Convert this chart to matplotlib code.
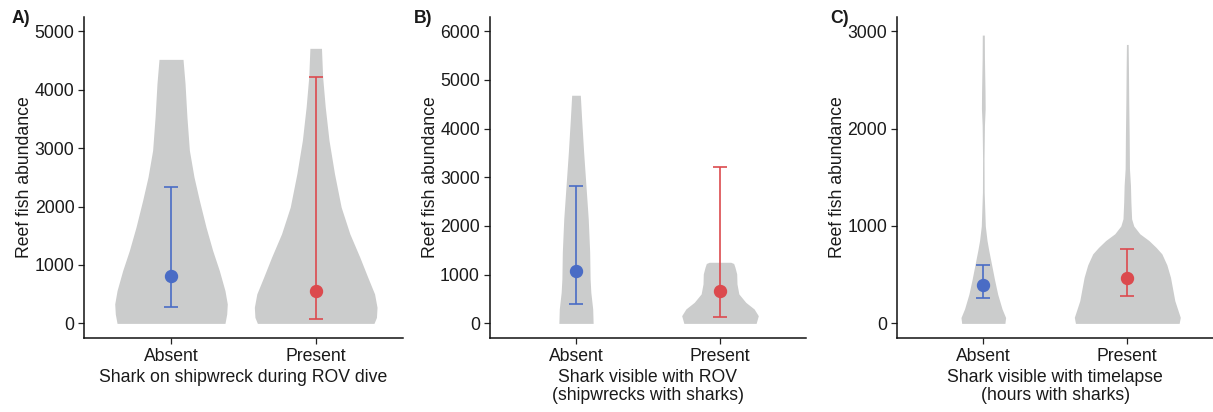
import matplotlib
matplotlib.use("Agg")
import matplotlib.pyplot as plt

plt.rcParams['font.family'] = ['Liberation Sans', 'DejaVu Sans']

groups = ['Absent', 'Present']
panel_letters = ['A)', 'B)', 'C)']
x_titles = ['Shark on shipwreck during ROV dive',
            'Shark visible with ROV\n(shipwrecks with sharks)',
            'Shark visible with timelapse\n(hours with sharks)']
y_tick_values = [[0, 1000, 2000, 3000, 4000, 5000],
                 [0, 1000, 2000, 3000, 4000, 5000, 6000],
                 [0, 1000, 2000, 3000]]

# violin outlines: abundance level -> half width (in category units)
a_absent_y = [0, 161, 333, 561, 904, 1247, 1647, 2105, 2504, 2962, 3534, 4106, 4518]
a_absent_w = [0.373, 0.385, 0.389, 0.373, 0.334, 0.288, 0.242, 0.196, 0.159, 0.127, 0.11, 0.097, 0.083]
a_present_y = [0, 103, 275, 504, 789, 1132, 1533, 1990, 2562, 3134, 3705, 4219, 4707]
a_present_w = [0.403, 0.42, 0.424, 0.407, 0.36, 0.305, 0.236, 0.176, 0.13, 0.092, 0.066, 0.048, 0.04]

b_absent_y = [0, 296, 638, 914, 1461, 2148, 2833, 3519, 4206, 4685]
b_absent_w = [0.119, 0.116, 0.103, 0.098, 0.095, 0.085, 0.069, 0.053, 0.039, 0.03]
b_present_y = [0, 158, 296, 432, 605, 811, 1016, 1152, 1230, 1255]
b_present_w = [0.251, 0.266, 0.237, 0.179, 0.131, 0.118, 0.116, 0.104, 0.095, 0.075]

c_absent_y = [0, 60, 150, 300, 450, 600, 750, 850, 1000, 1348, 1691, 2034, 2206, 2377, 2720, 2960]
c_absent_w = [0.15, 0.155, 0.13, 0.1, 0.078, 0.058, 0.038, 0.026, 0.014, 0.006, 0.005, 0.008, 0.013, 0.012, 0.008, 0.007]
c_present_y = [0, 62, 233, 473, 600, 714, 780, 851, 920, 1000, 1074, 1245, 1417, 1588, 1931, 2274, 2617, 2864]
c_present_w = [0.36, 0.368, 0.33, 0.3, 0.275, 0.24, 0.2, 0.15, 0.087, 0.045, 0.03, 0.025, 0.022, 0.015, 0.013, 0.01, 0.008, 0.006]

# mean with lower / upper interval per group
a_mean = [818, 560]
a_low = [286, 75]
a_high = [2340, 4220]
b_mean = [1070, 660]
b_low = [400, 125]
b_high = [2815, 3210]
c_mean = [397, 470]
c_low = [260, 283]
c_high = [600, 765]

violins = [[(a_absent_y, a_absent_w), (a_present_y, a_present_w)],
           [(b_absent_y, b_absent_w), (b_present_y, b_present_w)],
           [(c_absent_y, c_absent_w), (c_present_y, c_present_w)]]
summaries = [(a_mean, a_low, a_high), (b_mean, b_low, b_high), (c_mean, c_low, c_high)]

colors = ['#4a6cc5', '#dc4a4e']
violin_color = '#cbcccc'
fs = 12.7

W, H = 1213, 412
fig = plt.figure(figsize=(W / 100, H / 100), dpi=100)

# axes rectangles in pixels: left, right, bottom(y from top), top(y from top)
rects = [(84.2, 402.5), (489.6, 806.4), (896.9, 1213.7)]
y_bottom, y_top = 338.0, 16.6
letter_x = [12, 414, 830]

for i in range(3):
    x0, x1 = rects[i]
    ax = fig.add_axes([x0 / W, (H - y_bottom) / H, (x1 - x0) / W, (y_bottom - y_top) / H])

    for j, (vy, vw) in enumerate(violins[i]):
        pos = j + 1
        ax.fill_betweenx(vy, [pos - w for w in vw], [pos + w for w in vw],
                         color=violin_color, linewidth=0, zorder=1)

    means, lows, highs = summaries[i]
    for j in range(2):
        ax.errorbar(j + 1, means[j], yerr=[[means[j] - lows[j]], [highs[j] - means[j]]],
                    fmt='o', color=colors[j], ms=8.6, elinewidth=1.2, capsize=5.2,
                    capthick=1.2, zorder=3)

    ymax = y_tick_values[i][-1]
    ax.set_ylim(-0.05 * ymax, 1.05 * ymax)
    ax.set_xlim(0.4, 2.6)
    ax.set_yticks(y_tick_values[i])
    ax.set_xticks([1, 2])
    ax.set_xticklabels(groups)
    ax.tick_params(labelsize=fs, length=4, width=0.9, colors='#222222', labelcolor='#1a1a1a', pad=3)
    for s in ['top', 'right']:
        ax.spines[s].set_visible(False)
    for s in ['left', 'bottom']:
        ax.spines[s].set_linewidth(1.1)
        ax.spines[s].set_color('#111111')
    ax.set_ylabel('Reef fish abundance', fontsize=fs, labelpad=1, color='#1a1a1a')
    ax.set_xlabel(x_titles[i], fontsize=fs, labelpad=3, color='#1a1a1a', linespacing=1.1)

    fig.text(letter_x[i] / W, 1 - 10 / H, panel_letters[i], fontsize=fs, fontweight='bold',
             va='top', ha='left', color='#1a1a1a')

fig.savefig('out.png', dpi=100)
